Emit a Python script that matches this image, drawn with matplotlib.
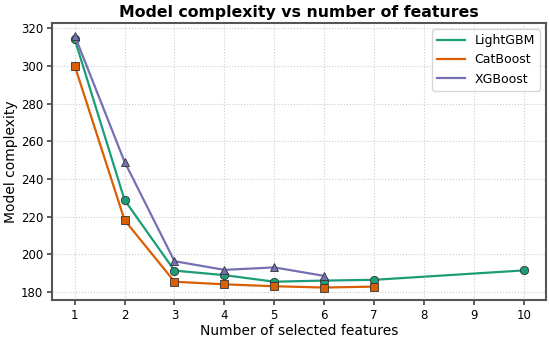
import matplotlib.pyplot as plt

#%% Data
lgbm_x = [1, 2, 3, 4, 5, 6, 7, 10]
lgbm_y = [314.3, 228.8, 191.3, 188.9, 185.4, 186.0, 186.4, 191.4]

cat_x = [1, 2, 3, 4, 5, 6, 7]
cat_y = [300.2, 218.1, 185.4, 184.0, 183.0, 182.3, 182.8]

xgb_x = [1, 2, 3, 4, 5, 6]
xgb_y = [316.2, 249.1, 196.3, 191.7, 193.0, 188.5]

xticks = [1, 2, 3, 4, 5, 6, 7, 8, 9, 10]

#%% Plot
fig = plt.figure(figsize=(5.5, 3.38), dpi=100)
ax = fig.add_subplot(111)

ax.plot(lgbm_x, lgbm_y, color='#1b9e77', lw=1.6, marker='o', ms=6,
        mec='#333333', mew=0.6, label='LightGBM')
ax.plot(cat_x, cat_y, color='#d95f02', lw=1.6, marker='s', ms=6,
        mec='#333333', mew=0.6, label='CatBoost')
ax.plot(xgb_x, xgb_y, color='#7570b3', lw=1.6, marker='^', ms=6,
        mec='#333333', mew=0.6, label='XGBoost')

ax.set_title('Model complexity vs number of features', fontsize=11.3, fontweight='bold', pad=4)
ax.set_xlabel('Number of selected features', fontsize=10, labelpad=1)
ax.set_ylabel('Model complexity', fontsize=10, labelpad=2)
ax.set_xticks(xticks)
ax.margins(x=0.05, y=0.05)
ax.tick_params(labelsize=8.5, width=1.2, color='#444444', pad=3)
ax.grid(True, ls=':', lw=0.8, color='#cccccc')
for s in ax.spines.values():
    s.set_linewidth(1.5)
    s.set_color('#555555')

leg = ax.legend(loc='upper right', fontsize=9, handlelength=2.2)
for h in leg.legend_handles:
    h.set_marker('')

plt.subplots_adjust(left=0.095, right=0.993, top=0.932, bottom=0.112)
plt.savefig('out.png', dpi=100)
